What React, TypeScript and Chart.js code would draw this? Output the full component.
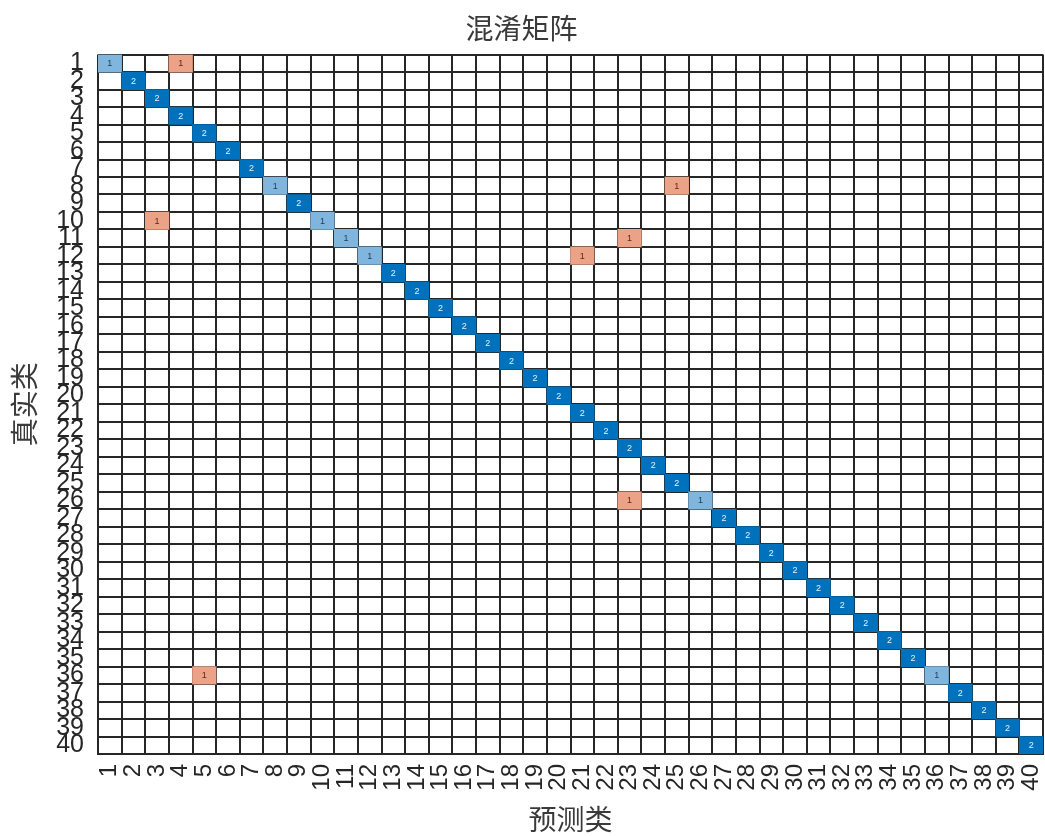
import React, { useEffect, useRef } from "react";
import { Chart, registerables } from "chart.js";

Chart.register(...registerables);

// Class labels (predicted / true)
const classLabels = [
  "1", "2", "3", "4", "5", "6", "7", "8", "9", "10",
  "11", "12", "13", "14", "15", "16", "17", "18", "19", "20",
  "21", "22", "23", "24", "25", "26", "27", "28", "29", "30",
  "31", "32", "33", "34", "35", "36", "37", "38", "39", "40",
];

// Diagonal counts, row 1..40 (correct predictions)
const diagonalCounts = [
  1, 2, 2, 2, 2, 2, 2, 1, 2, 1,
  1, 1, 2, 2, 2, 2, 2, 2, 2, 2,
  2, 2, 2, 2, 2, 1, 2, 2, 2, 2,
  2, 2, 2, 2, 2, 1, 2, 2, 2, 2,
];

// Off-diagonal (misclassified) cells
const offTrueClass = ["1", "8", "10", "11", "12", "26", "36"];
const offPredClass = ["4", "25", "3", "23", "21", "23", "5"];
const offCounts = [1, 1, 1, 1, 1, 1, 1];

const DIAG_DARK = "#0072BD";
const DIAG_LIGHT = "#80B5DE";
const OFF_LIGHT = "#EBA287";
const GRID = "#262626";
const CJK = "'Noto Sans CJK SC', 'Noto Sans', sans-serif";
const LAT = "'Liberation Sans', Arial, sans-serif";

const maxCount = 2;

function cellColor(v: number, diag: boolean) {
  if (diag) return v >= maxCount ? DIAG_DARK : DIAG_LIGHT;
  return OFF_LIGHT;
}

const cellTextPlugin = {
  id: "cellText",
  afterDatasetsDraw(chart: any) {
    const ctx = chart.ctx;
    ctx.save();
    ctx.font = `9px ${LAT}`;
    ctx.textAlign = "center";
    ctx.textBaseline = "middle";
    chart.data.datasets.forEach((ds: any, di: number) => {
      const meta = chart.getDatasetMeta(di);
      meta.data.forEach((el: any, i: number) => {
        const raw = ds.data[i];
        const c = el.getCenterPoint();
        const dark = raw.diag && raw.v >= maxCount;
        ctx.fillStyle = dark ? "#e8f0f8" : raw.diag ? "#1f3a55" : "#5a2a14";
        ctx.fillText(String(raw.v), c.x, c.y + 0.5);
      });
    });
    ctx.restore();
  },
};

export default function App() {
  const ref = useRef<HTMLCanvasElement>(null);

  useEffect(() => {
    document.body.style.margin = "0";
    const rowIndex = (lab: string) => classLabels.indexOf(lab) + 1;

    const diagData = classLabels.map((lab, i) => ({
      x: lab,
      y: [i + 0.5, i + 1.5],
      v: diagonalCounts[i],
      diag: true,
    }));

    const offDatasets = offTrueClass.map((t, k) => {
      const r = rowIndex(t);
      return {
        label: `off-${k}`,
        data: [{ x: offPredClass[k], y: [r - 0.5, r + 0.5], v: offCounts[k], diag: false }],
      };
    });

    const datasets = [{ label: "diag", data: diagData }, ...offDatasets].map((d) => ({
      ...d,
      grouped: false,
      barPercentage: 1,
      categoryPercentage: 1,
      borderWidth: 0,
      borderSkipped: false,
      backgroundColor: (c: any) => (c.raw ? cellColor(c.raw.v, c.raw.diag) : "transparent"),
    }));

    const halfTicks: number[] = [];
    for (let k = 0; k <= classLabels.length; k++) halfTicks.push(k + 0.5);

    const chart = new Chart(ref.current!, {
      type: "bar",
      data: { labels: classLabels, datasets: datasets as any },
      options: {
        animation: false,
        responsive: false,
        devicePixelRatio: 1,
        layout: { padding: { top: 0, left: 0, right: 2, bottom: 0 } },
        plugins: {
          legend: { display: false },
          tooltip: { enabled: false },
          title: {
            display: true,
            text: "混淆矩阵",
            color: "#3a3a3a",
            font: { family: CJK, size: 28, weight: "normal" },
            padding: { top: 12, bottom: 9 },
          },
        },
        scales: {
          x: {
            type: "category",
            offset: true,
            z: 1,
            grid: { display: true, offset: true, color: GRID, lineWidth: 2, drawTicks: false },
            border: { display: true, color: GRID, width: 2 },
            ticks: {
              autoSkip: false,
              maxRotation: 90,
              minRotation: 90,
              padding: 10,
              color: GRID,
              font: { family: LAT, size: 24 },
            },
            title: {
              display: true,
              text: "预测类",
              color: "#3a3a3a",
              font: { family: CJK, size: 28 },
              padding: { top: 0, bottom: 0 },
            },
            afterFit: (s: any) => {
              s.height = 82;
              s.paddingLeft = 0;
              s.paddingRight = 0;
            },
          },
          y: {
            type: "linear",
            position: "left",
            reverse: true,
            min: 0.5,
            max: classLabels.length + 0.5,
            grid: { display: false, drawTicks: false },
            border: { display: false },
            ticks: {
              autoSkip: false,
              padding: 14,
              color: GRID,
              font: { family: LAT, size: 25 },
              callback: (v: any) => classLabels[Math.round(Number(v)) - 1] ?? "",
            },
            afterBuildTicks: (s: any) => {
              s.ticks = classLabels.map((_, i) => ({ value: i + 1 }));
            },
            title: {
              display: true,
              text: "真实类",
              color: "#3a3a3a",
              font: { family: CJK, size: 28 },
              padding: { top: 8, bottom: 0 },
            },
            afterFit: (s: any) => {
              s.width = 98;
              s.paddingTop = 0;
              s.paddingBottom = 0;
            },
          },
          yg: {
            type: "linear",
            position: "left",
            reverse: true,
            min: 0.5,
            max: classLabels.length + 0.5,
            z: 1,
            grid: { display: true, color: GRID, lineWidth: 2, drawTicks: false },
            border: { display: false },
            ticks: { display: false },
            afterBuildTicks: (s: any) => {
              s.ticks = halfTicks.map((v) => ({ value: v }));
            },
            afterFit: (s: any) => {
              s.width = 0;
            },
          },
        },
      } as any,
      plugins: [cellTextPlugin],
    });
    return () => chart.destroy();
  }, []);

  return <canvas ref={ref} width={1045} height={836} style={{ display: "block" }} />;
}
